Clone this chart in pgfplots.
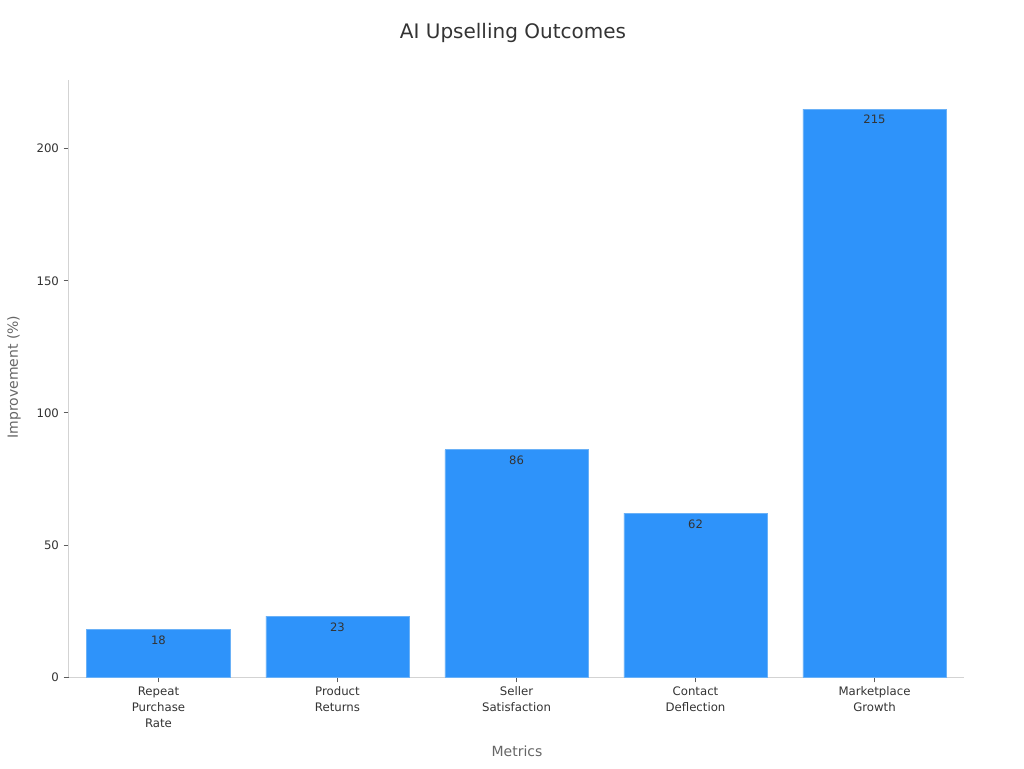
\documentclass[border=0pt]{standalone}
\usepackage{pgfplots}
\pgfplotsset{compat=1.18}
\usepackage{fontspec}
\setmainfont{DejaVu Sans}

\definecolor{barblue}{HTML}{2E93FA}
\definecolor{baredge}{HTML}{6AB1F7}
\definecolor{spine}{HTML}{D3D3D3}
\definecolor{txt}{HTML}{333333}
\definecolor{lbl}{HTML}{666666}

\begin{document}
\begin{tikzpicture}
% page frame: 1024 x 768 px at 0.75pt/px, axis box corner at origin
\path (-51.75pt,-68.25pt) rectangle (716.25pt,507.75pt);

\begin{axis}[
    at={(0pt,0pt)}, anchor=south west,
    scale only axis,
    width=671.25pt, height=447.75pt,
    xmin=-0.5, xmax=4.5,
    ymin=0, ymax=226,
    axis lines*=left,
    axis line style={draw=spine, line width=0.75pt},
    xtick={0,1,2,3,4},
    xticklabels={Repeat\\Purchase\\Rate, Product\\Returns, Seller\\Satisfaction, Contact\\Deflection, Marketplace\\Growth},
    x tick label style={align=center, font=\fontsize{8.8}{12}\selectfont, text=txt},
    ytick={0,50,100,150,200},
    y tick label style={font=\fontsize{8.8}{10}\selectfont, text=txt},
    /pgf/number format/assume math mode=true,
    tick style={color=txt!80, line width=0.6pt},
    tick align=outside,
    major tick length=4pt,
    ybar, bar width=107.4pt,
    nodes near coords,
    every node near coord/.append style={anchor=north, yshift=-1pt, font=\fontsize{8.7}{10}\selectfont, text=txt},
    clip=false,
]
\addplot[fill=barblue, draw=baredge, line width=0.6pt] coordinates {
    (0,18) (1,23) (2,86) (3,62) (4,215)
};
\end{axis}

\node[font=\fontsize{15}{18}\selectfont, text=txt] at (333pt,483pt) {AI Upselling Outcomes};
\node[font=\fontsize{10.5}{12}\selectfont, text=lbl] at (336pt,-55.5pt) {Metrics};
\node[font=\fontsize{10.5}{12}\selectfont, text=lbl, rotate=90] at (-41.25pt,225pt) {Improvement (\%)};
\end{tikzpicture}
\end{document}
